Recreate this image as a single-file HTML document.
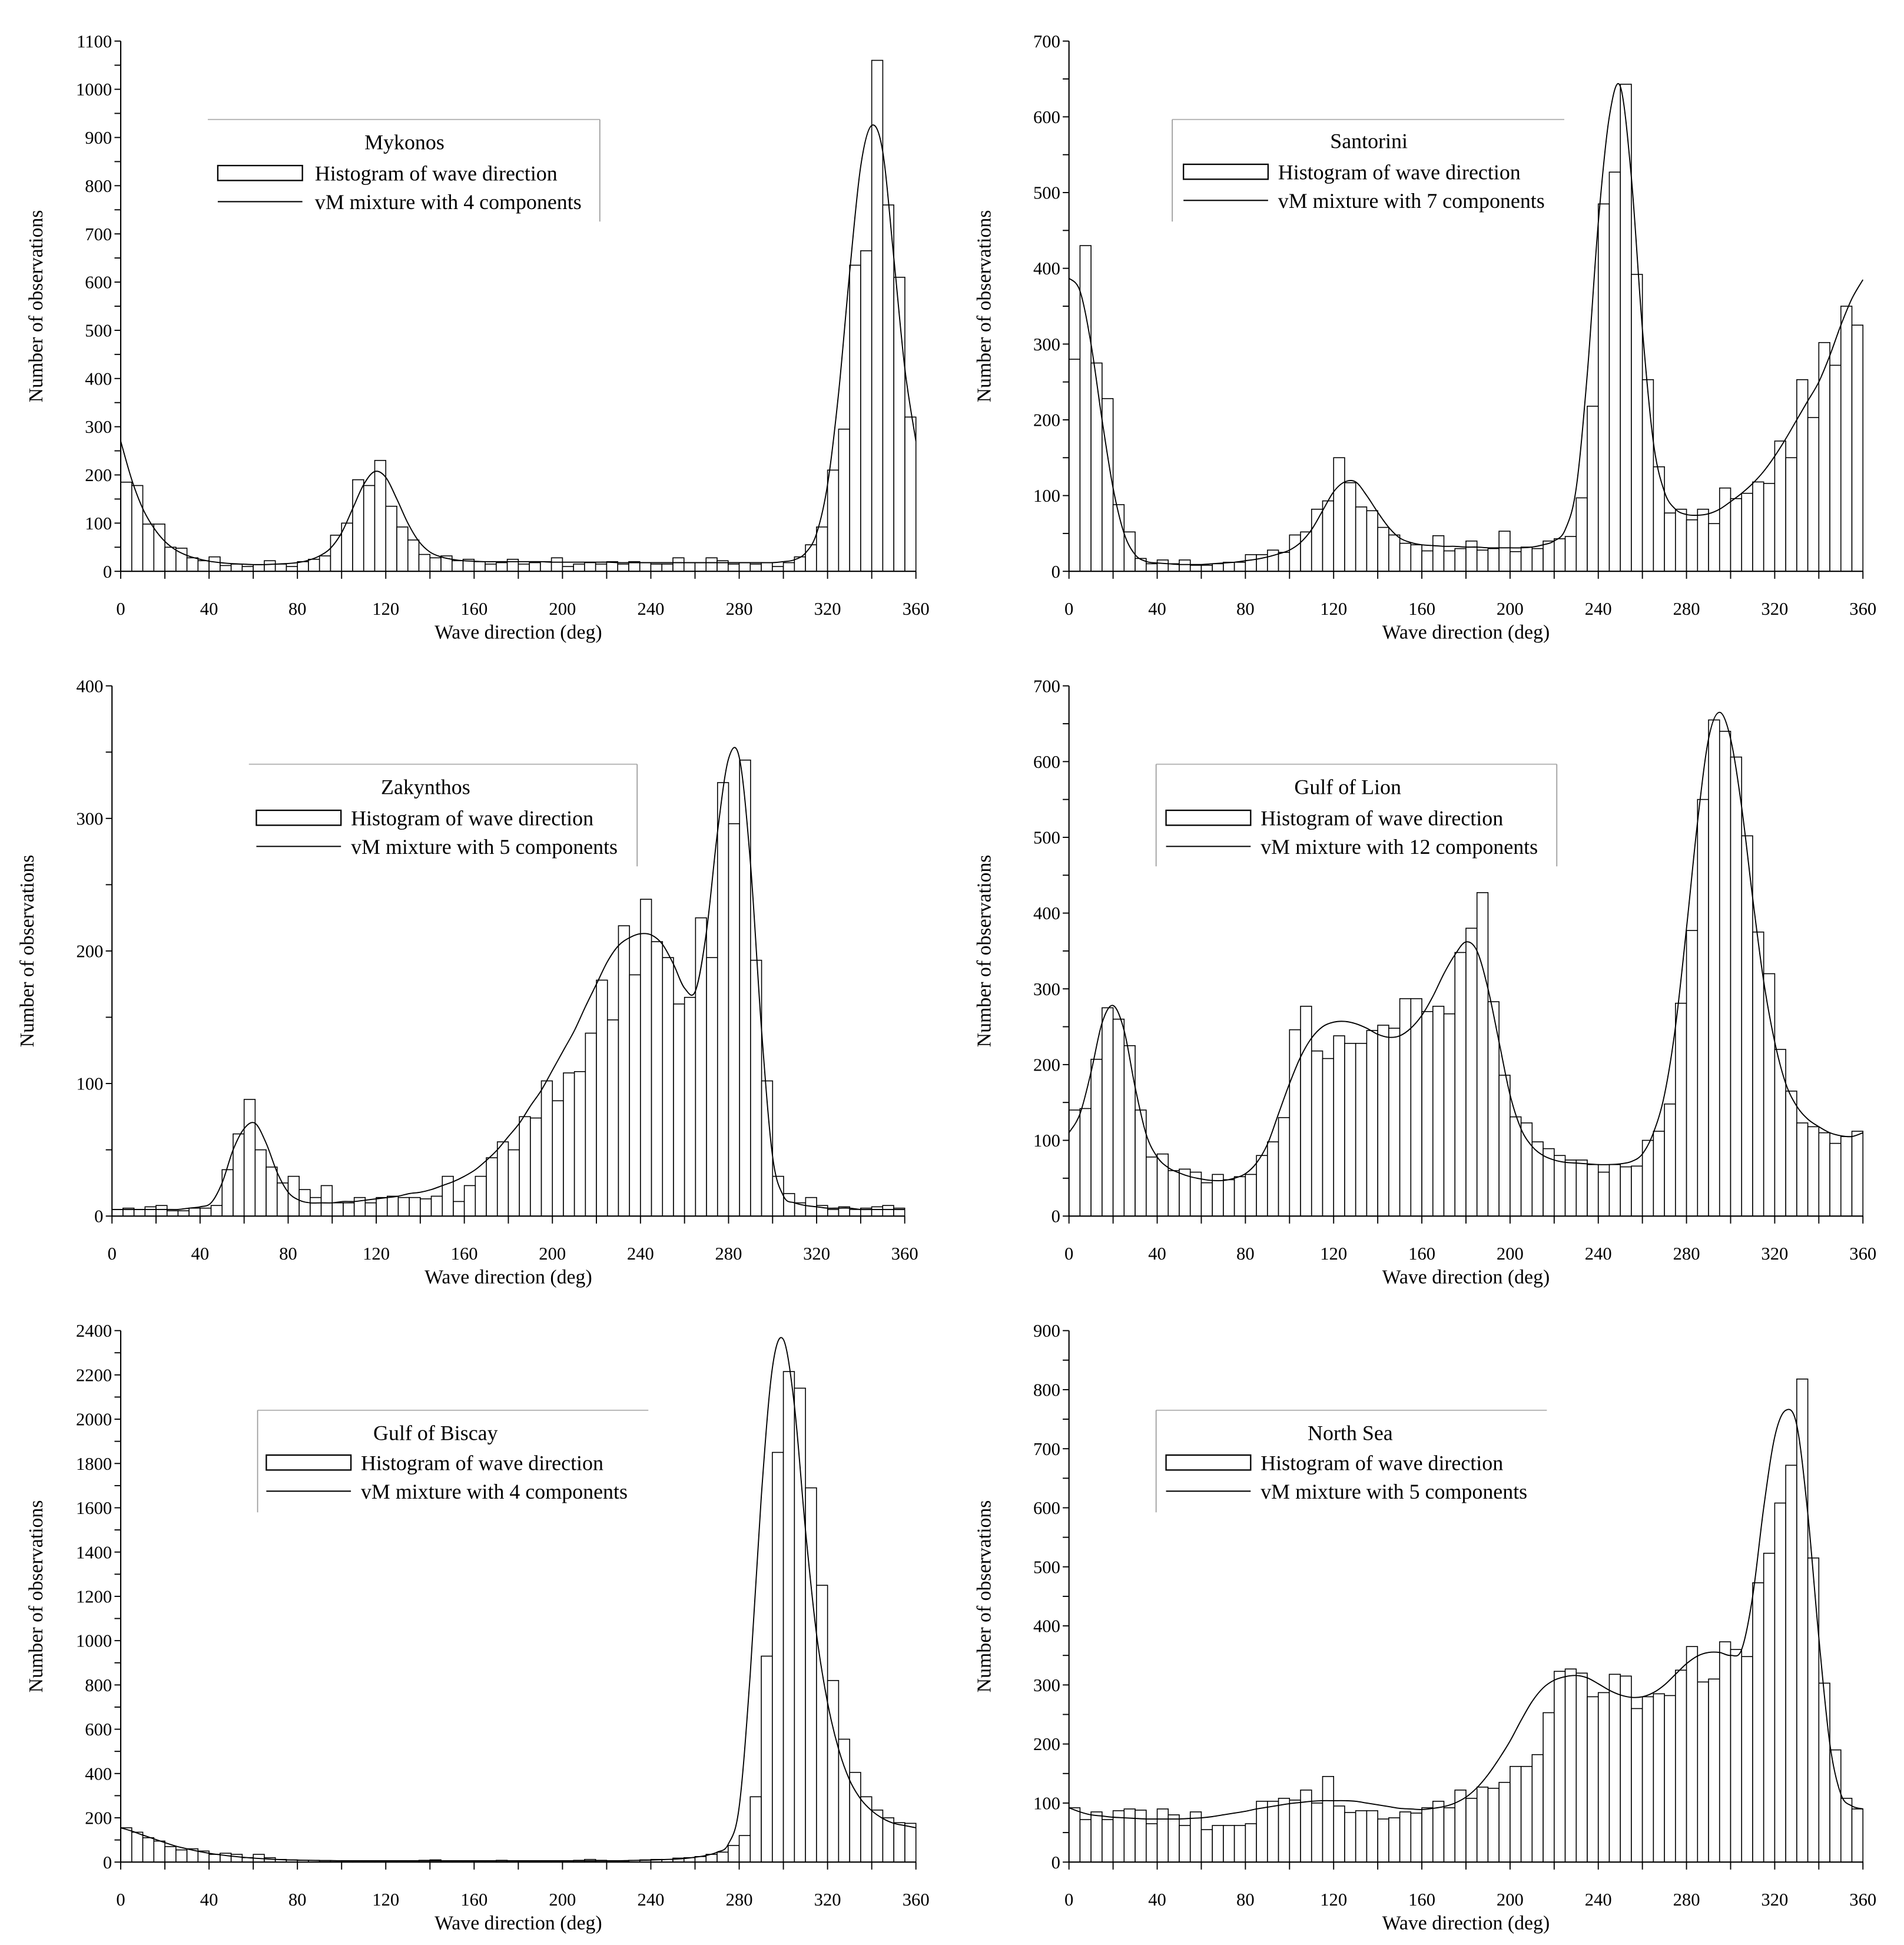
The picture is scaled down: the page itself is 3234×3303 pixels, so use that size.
<!DOCTYPE html>
<html><head><meta charset="utf-8"><style>
html,body{margin:0;padding:0;background:#fff;}
svg{display:block;}
text{font-family:"Liberation Serif",serif;fill:#000;}
</style></head><body>
<svg id="fig" width="3234" height="3303" viewBox="0 0 1530 1562.6" preserveAspectRatio="none" xmlns="http://www.w3.org/2000/svg"></svg>
<script>
// ---- data: 5-degree bins (0..355) and vM mixture sampled every 5 deg (0..360) ----
const binStarts = Array.from({length:72},(_,i)=>i*5);
const curveDirs = Array.from({length:73},(_,i)=>i*5);
const xTicks = [0,40,80,120,160,200,240,280,320,360];

const mykonosBars = [185,178,98,98,50,48,28,22,30,12, 15,10,14,22,15,10,20,25,32,75, 100,190,178,230,135,92,65,35,28,32, 22,25,20,15,18,25,15,18,20,28, 10,15,18,15,20,15,20,18,15,15, 28,18,18,28,22,15,18,15,18,10, 18,30,55,92,210,295,635,665,1060,760, 610,320];
const mykonosCurve = [270,190,130,90,62,44,33,26,21,18, 16,15,14,14,15,16,18,23,32,48, 80,130,180,207,195,150,100,62,40,30, 25,22,21,20,20,20,20,20,20,19, 19,19,19,19,19,18,18,18,18,18, 18,18,18,18,18,18,18,18,18,18, 20,24,38,78,180,370,620,840,925,870, 650,420,270];

const santoriniBars = [280,430,275,228,88,52,17,10,15,10, 15,8,8,10,12,12,22,22,28,25, 48,52,82,93,150,117,85,80,58,48, 37,35,27,47,27,30,40,28,30,53, 26,32,30,40,43,46,97,218,485,527, 643,392,253,138,77,82,68,82,63,110, 96,103,118,116,172,150,253,203,302,272, 350,325];
const santoriniCurve = [387,370,300,200,110,50,22,13,11,10, 9,9,9,10,11,12,14,16,19,23, 28,38,55,80,105,118,118,100,78,58, 44,38,35,34,33,33,32,32,31,31, 31,31,32,35,40,55,110,260,460,600, 640,520,320,170,105,82,75,74,76,82, 92,103,116,132,152,175,200,225,250,285, 325,360,385];

const zakynthosBars = [5,6,5,7,8,4,4,6,6,8, 35,62,88,50,37,25,30,20,14,23, 10,10,14,10,14,15,14,14,13,15, 30,11,23,30,44,56,50,75,74,102, 87,108,109,138,178,148,219,182,239,207, 195,160,165,225,195,327,296,344,193,102, 30,17,10,14,8,5,7,5,6,7, 8,6];
const zakynthosCurve = [5,5,5,5,5,5,5,6,7,10, 25,50,66,70,55,33,18,12,10,10, 10,11,11,12,13,14,15,17,18,20, 23,26,30,35,42,50,60,70,83,95, 110,125,140,158,175,192,204,210,213,212, 205,190,172,170,215,290,345,345,265,140, 45,15,10,8,7,6,6,6,5,5, 5,5,5];

const lionBars = [140,142,207,275,260,225,140,78,82,60, 62,58,44,55,48,52,55,80,98,130, 246,277,218,208,238,228,228,245,252,248, 287,287,270,277,267,348,380,427,283,186, 131,123,98,89,80,74,74,68,58,68, 65,66,100,112,148,281,377,550,655,640, 606,502,375,320,220,165,123,118,110,96, 105,112];
const lionCurve = [110,135,190,255,278,245,170,108,78,64, 57,52,49,47,47,50,56,70,95,135, 175,210,235,250,256,257,254,248,240,236, 238,248,265,290,320,345,362,350,300,230, 160,115,92,80,74,71,70,69,68,68, 69,72,82,110,160,250,380,520,630,665, 630,540,420,310,230,175,145,128,118,110, 106,105,110];

const biscayBars = [155,135,110,95,70,55,60,50,35,40, 35,20,35,20,12,10,8,8,6,6, 5,5,5,5,5,5,5,8,10,5, 5,5,5,5,8,5,5,5,5,5, 5,8,12,8,5,5,8,10,12,12, 18,20,25,35,45,75,120,295,930,1850, 2215,2140,1690,1250,820,555,405,295,235,200, 178,175];
const biscayCurve = [155,140,122,105,88,72,60,49,40,33, 27,22,18,15,12,10,9,8,7,7, 6,6,6,6,6,6,6,6,6,6, 6,6,6,6,6,6,6,6,6,6, 6,6,6,6,6,6,7,8,9,11, 13,16,22,30,45,80,250,850,1650,2230, 2360,2060,1500,1030,720,510,370,285,232,197, 175,165,155];

const northBars = [92,72,85,72,87,90,88,65,90,80, 62,85,55,62,62,62,65,103,103,108, 105,122,100,145,95,84,87,87,73,75, 85,83,92,103,92,122,108,127,125,135, 162,162,182,253,323,327,320,280,287,318, 315,260,280,285,282,325,365,305,310,373, 360,348,473,523,608,672,818,515,303,190, 108,90];
const northCurve = [92,85,80,78,76,75,74,73,73,73, 73,74,75,77,80,83,86,90,93,96, 99,101,103,104,104,104,103,100,97,94, 91,90,89,91,94,100,110,126,148,175, 205,240,272,295,308,314,316,312,302,291, 283,279,280,287,300,318,336,349,355,355, 350,360,450,600,720,765,740,590,380,200, 115,95,90];

const yTicksMykonos=[0,100,200,300,400,500,600,700,800,900,1000,1100];
const yTicks700=[0,100,200,300,400,500,600,700];
const yTicksZak=[0,100,200,300,400];
const yTicksBiscay=[0,200,400,600,800,1000,1200,1400,1600,1800,2000,2200,2400];
const yTicksNorth=[0,100,200,300,400,500,600,700,800,900];

const NS="http://www.w3.org/2000/svg";
const svg=document.getElementById('fig');
function mk(tag,attrs,parent){const e=document.createElementNS(NS,tag);for(const k in attrs)e.setAttribute(k,attrs[k]);(parent||svg).appendChild(e);return e;}

const panels=[
 {name:'mykonos',title:'Mykonos',comp:4,bars:mykonosBars,curve:mykonosCurve,yTicks:yTicksMykonos,x0:97,x1:736,yb:459,yt:33,
  lg:{l:167,r:482,t:96,b:178,sides:'tr',tx:325,ty:120,sw:175,sy:133,ly:162,txt:253}},
 {name:'santorini',title:'Santorini',comp:7,bars:santoriniBars,curve:santoriniCurve,yTicks:yTicks700,x0:859,x1:1497,yb:459,yt:33,
  lg:{l:942,r:1257,t:96,b:178,sides:'tl',tx:1100,ty:119,sw:951,sy:132,ly:161,txt:1027}},
 {name:'zakynthos',title:'Zakynthos',comp:5,bars:zakynthosBars,curve:zakynthosCurve,yTicks:yTicksZak,x0:90,x1:727,yb:977,yt:551,
  lg:{l:200,r:512,t:614,b:696,sides:'tr',tx:342,ty:638,sw:206,sy:651,ly:680,txt:282}},
 {name:'gulf-of-lion',title:'Gulf of Lion',comp:12,bars:lionBars,curve:lionCurve,yTicks:yTicks700,x0:859,x1:1497,yb:977,yt:551,
  lg:{l:929,r:1251,t:614,b:696,sides:'tlr',tx:1083,ty:638,sw:937,sy:651,ly:680,txt:1013}},
 {name:'gulf-of-biscay',title:'Gulf of Biscay',comp:4,bars:biscayBars,curve:biscayCurve,yTicks:yTicksBiscay,x0:97,x1:736,yb:1496,yt:1069,
  lg:{l:207,r:521,t:1133,b:1215,sides:'tl',tx:350,ty:1157,sw:214,sy:1169,ly:1198,txt:290}},
 {name:'north-sea',title:'North Sea',comp:5,bars:northBars,curve:northCurve,yTicks:yTicksNorth,x0:859,x1:1497,yb:1496,yt:1069,
  lg:{l:929,r:1243,t:1133,b:1215,sides:'tl',tx:1085,ty:1157,sw:937,sy:1169,ly:1198,txt:1013}}
];

function smoothPath(pts){
  let d='M'+pts[0][0].toFixed(2)+','+pts[0][1].toFixed(2);
  for(let i=0;i<pts.length-1;i++){
    const p0=pts[Math.max(0,i-1)],p1=pts[i],p2=pts[i+1],p3=pts[Math.min(pts.length-1,i+2)];
    const c1=[p1[0]+(p2[0]-p0[0])/6,p1[1]+(p2[1]-p0[1])/6];
    const c2=[p2[0]-(p3[0]-p1[0])/6,p2[1]-(p3[1]-p1[1])/6];
    d+='C'+c1[0].toFixed(2)+','+c1[1].toFixed(2)+' '+c2[0].toFixed(2)+','+c2[1].toFixed(2)+' '+p2[0].toFixed(2)+','+p2[1].toFixed(2);
  }
  return d;
}

panels.forEach(p=>{
  const g=mk('g',{});
  
  
  const ymax=p.yTicks[p.yTicks.length-1];
  const xs=v=>p.x0+(v/360)*(p.x1-p.x0);
  const ys=v=>p.yb-(v/ymax)*(p.yb-p.yt);
  const bg=mk('g',{},g);
  
  
  p.bars.forEach((v,i)=>{
    const x=xs(binStarts[i]), w=xs(binStarts[i]+5)-x, y=ys(v);
    const r=mk('rect',{x:x,y:y,width:w,height:p.yb-y,fill:'#fff',stroke:'#000','stroke-width':0.75},bg);
    
    
  });
  const pts=p.curve.map((v,i)=>[xs(curveDirs[i]),ys(v)]);
  const c=mk('path',{d:smoothPath(pts),fill:'none',stroke:'#000','stroke-width':0.9},g);
  
  
  const ax=mk('line',{x1:p.x0,y1:p.yb,x2:p.x0,y2:p.yt,stroke:'#000','stroke-width':1},g);
  
  
  const axx=mk('line',{x1:p.x0,y1:p.yb,x2:p.x1,y2:p.yb,stroke:'#000','stroke-width':1},g);
  
  
  const step=p.yTicks[1]-p.yTicks[0];
  for(let v=0;v<=ymax+1e-9;v+=step/2){
    mk('line',{x1:p.x0-5,y1:ys(v),x2:p.x0,y2:ys(v),stroke:'#000','stroke-width':0.9},g);
  }
  p.yTicks.forEach(v=>{
    const t=mk('text',{x:p.x0-7,y:ys(v)+5,'text-anchor':'end','font-size':14.5},g);
    t.textContent=v;
    
    
  });
  for(let v=0;v<=360;v+=20){
    mk('line',{x1:xs(v),y1:p.yb,x2:xs(v),y2:p.yb+6,stroke:'#000','stroke-width':0.9},g);
  }
  xTicks.forEach(v=>{
    const t=mk('text',{x:xs(v),y:p.yb+35,'text-anchor':'middle','font-size':14.5},g);
    t.textContent=v;
    
    
  });
  const xt=mk('text',{x:(p.x0+p.x1)/2,y:p.yb+54,'text-anchor':'middle','font-size':16},g);
  xt.textContent='Wave direction (deg)';
  
  
  const yc=(p.yb+p.yt)/2, yx=p.x0-63;
  const yt=mk('text',{x:yx,y:yc,'text-anchor':'middle','font-size':16,transform:'rotate(-90 '+yx+' '+yc+')'},g);
  yt.textContent='Number of observations';
  
  
  const L=p.lg;
  const lg=mk('g',{},g);
  
  
  mk('line',{x1:L.l,y1:L.t,x2:L.r,y2:L.t,stroke:'#bbb','stroke-width':1},lg);
  if(L.sides.includes('l')) mk('line',{x1:L.l,y1:L.t,x2:L.l,y2:L.b,stroke:'#999','stroke-width':0.8},lg);
  if(L.sides.includes('r')) mk('line',{x1:L.r,y1:L.t,x2:L.r,y2:L.b,stroke:'#999','stroke-width':0.8},lg);
  const tt=mk('text',{x:L.tx,y:L.ty,'text-anchor':'middle','font-size':17},lg);
  tt.textContent=p.title;
  
  
  const sr=mk('rect',{x:L.sw,y:L.sy,width:68,height:12,fill:'#fff',stroke:'#000','stroke-width':1.1},lg);
  
  
  const t1=mk('text',{x:L.txt,y:L.sy+12,'font-size':17},lg);
  t1.textContent='Histogram of wave direction';
  
  
  const sl=mk('line',{x1:L.sw,y1:L.ly,x2:L.sw+68,y2:L.ly,stroke:'#000','stroke-width':1},lg);
  
  
  const t2=mk('text',{x:L.txt,y:L.ly+6,'font-size':17},lg);
  t2.textContent='vM mixture with '+p.comp+' components';
  
  
});
</script>
</body></html>
